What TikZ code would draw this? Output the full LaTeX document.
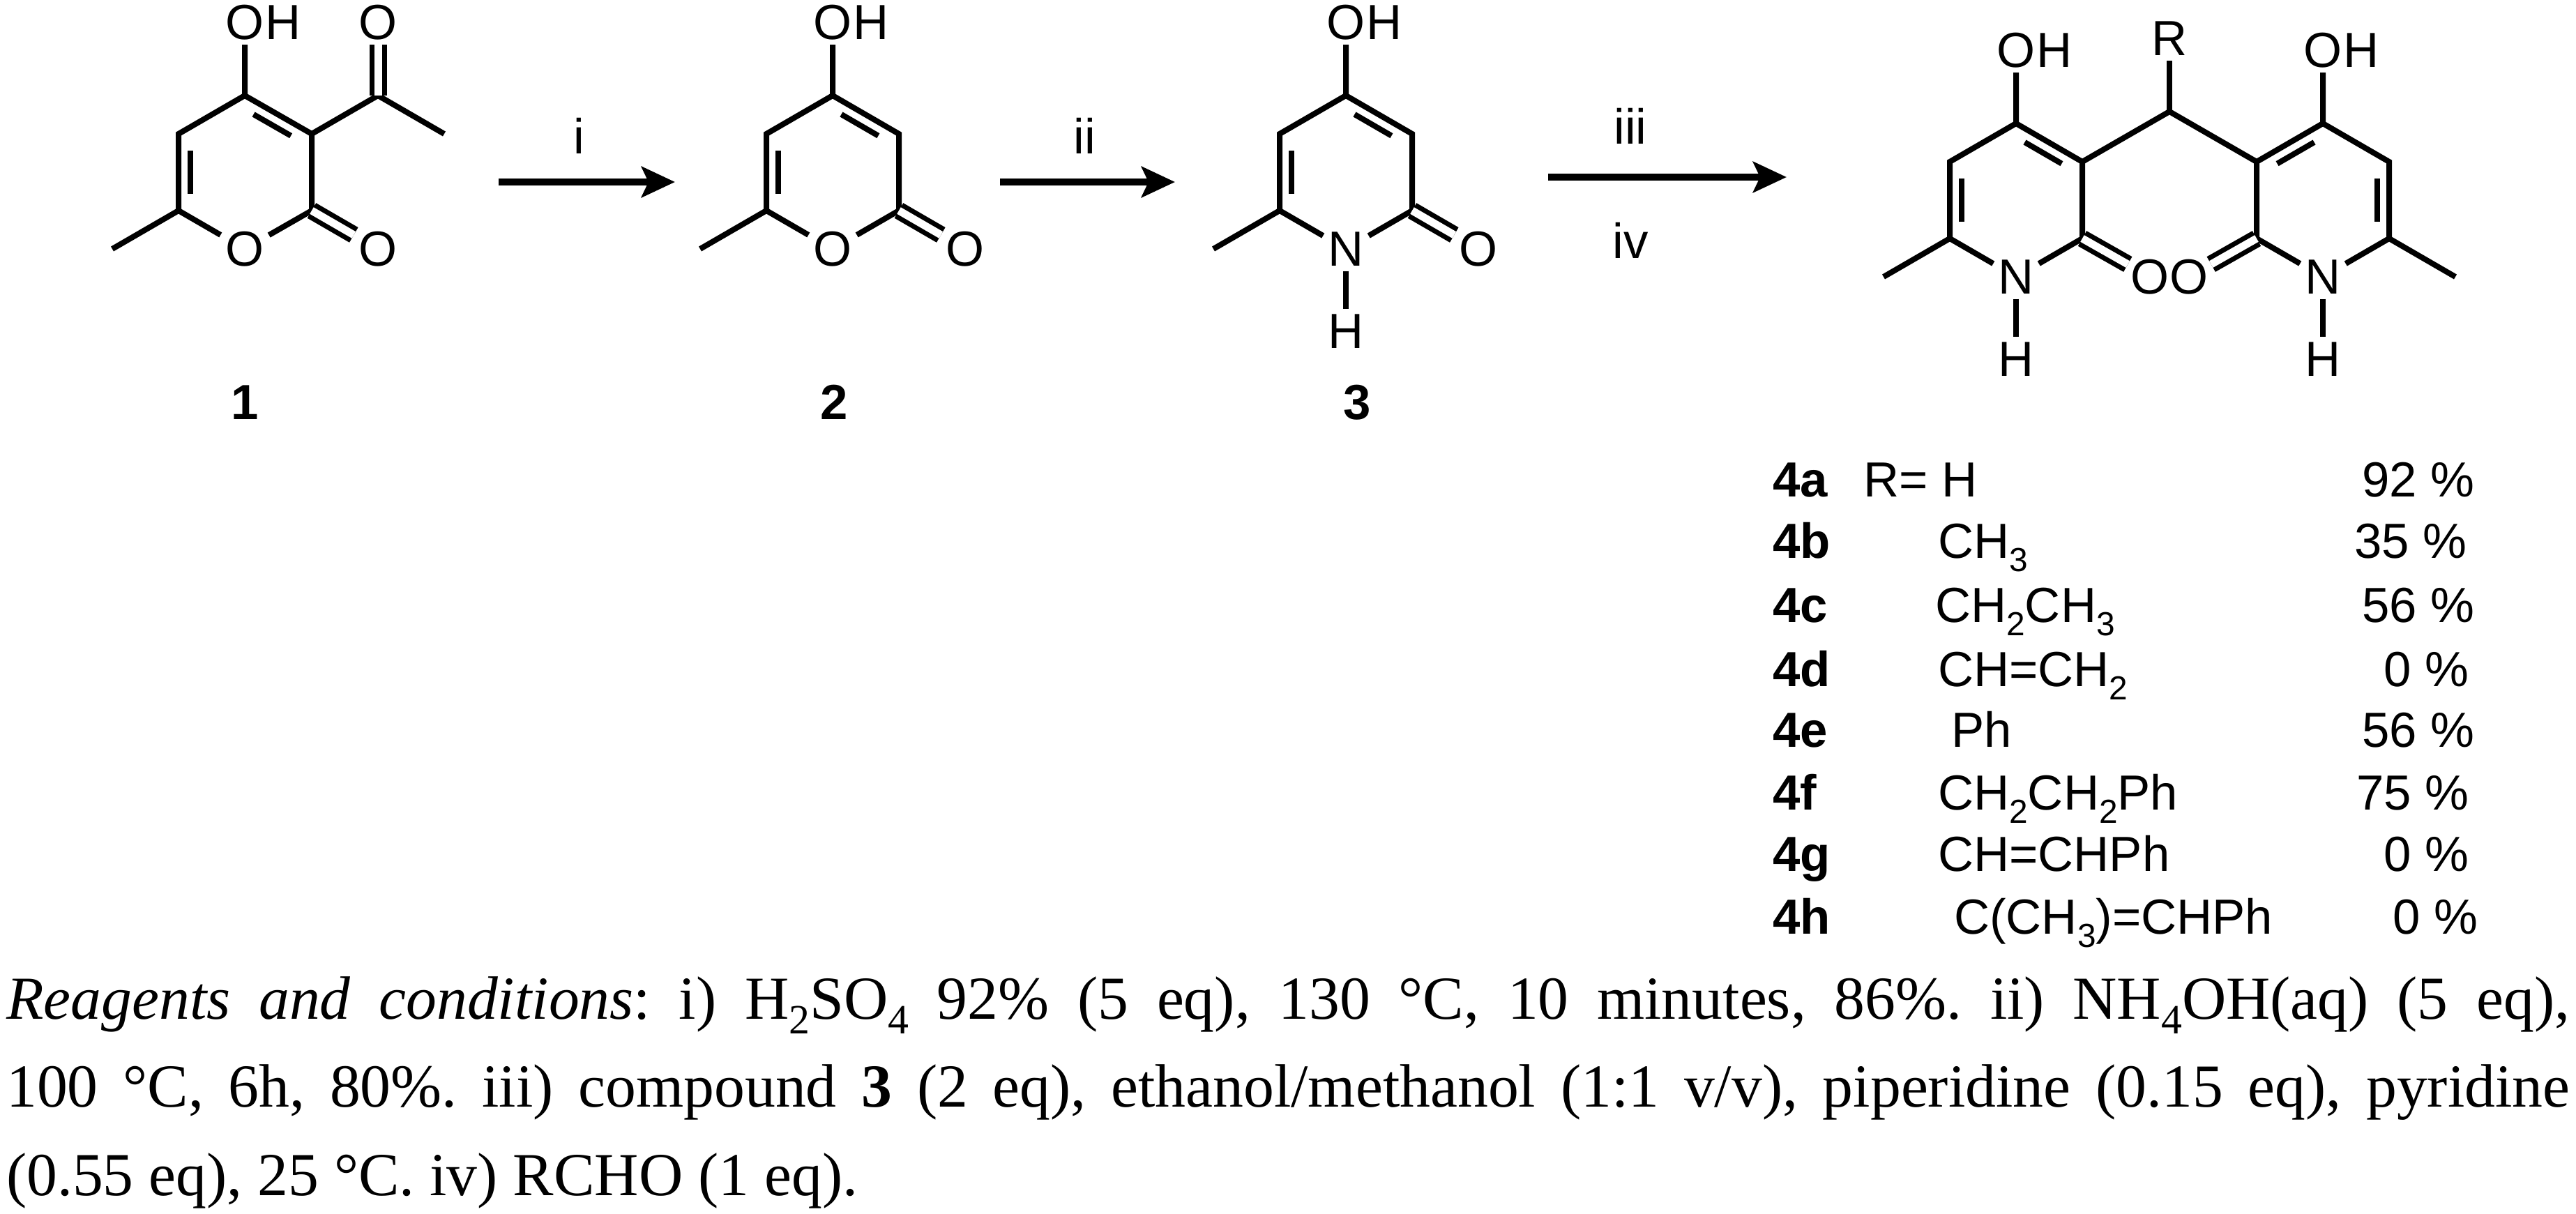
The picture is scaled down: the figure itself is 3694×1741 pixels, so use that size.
\documentclass[tikz,border=0pt]{standalone}
\usepackage{fontspec}
\setmainfont{Liberation Serif}
\newfontfamily\arial{Liberation Sans}
\usetikzlibrary{calc,arrows.meta}
\frenchspacing
\newcommand{\chsub}[1]{\raisebox{-0.28em}{\fontsize{48}{48}\selectfont #1}}
\newcommand{\capsub}[1]{\raisebox{-0.25em}{\fontsize{60}{60}\selectfont #1}}
\tikzset{
  bond/.style={line width=8bp},
  dbl/.style={line width=7bp,double,double distance=11bp},
  atom/.style={font=\arial\fontsize{71}{71}\selectfont,inner sep=7bp},
  lab/.style={font=\arial\bfseries\fontsize{71}{71}\selectfont,inner sep=0},
  tab/.style={font=\arial\fontsize{71}{71}\selectfont,inner sep=0},
  rxn/.style={line width=10bp,-{Stealth[length=48bp,width=44bp,inset=10bp]}},
}
\newcommand{\ringdb}[3]{\draw[bond] ($($(#1)!0.16!(#2)$)!0.18!(#3)$) -- ($($(#2)!0.16!(#1)$)!0.18!(#3)$);}
\begin{document}
\begin{tikzpicture}[x=1bp,y=-1bp]
\useasboundingbox (0,0) rectangle (3694,1741);
% ---------- compound 1
\coordinate (a4) at (351,137); \coordinate (a5) at (256,192); \coordinate (a6) at (256,302);
\coordinate (a2) at (447,302); \coordinate (a3) at (447,192); \coordinate (ac) at (351,247);
\coordinate (aak) at (542,137); \coordinate (ame) at (637,192); \coordinate (ame6) at (161,357);
\node[atom] (ao1) at (351,357) {O};
\node[atom] (aoh) at (351,32) {O}; \node[atom,anchor=west,inner sep=0] (aohh) at ([xshift=-5bp]aoh.east) {H};
\node[atom] (aoa) at (542,32) {O};
\node[atom] (aoc) at (542,357) {O};
\draw[bond] (aoh) -- (a4) -- (a5) -- (a6) -- (ao1) -- (a2) -- (a3) -- (a4);
\draw[bond] (a6) -- (ame6); \draw[bond] (a3) -- (aak) -- (ame);
\draw[dbl] (aak) -- (aoa); \draw[dbl] (a2) -- (aoc);
\ringdb{a3}{a4}{ac} \ringdb{a5}{a6}{ac}
\node[lab] (l1) at (351,577) {1};
% ---------- compound 2
\coordinate (b4) at (1194,137); \coordinate (b5) at (1099,192); \coordinate (b6) at (1099,302);
\coordinate (b2) at (1289,302); \coordinate (b3) at (1289,192); \coordinate (bc) at (1194,247);
\coordinate (bme6) at (1004,357);
\node[atom] (bo1) at (1194,357) {O};
\node[atom] (boh) at (1194,32) {O}; \node[atom,anchor=west,inner sep=0] (bohh) at ([xshift=-5bp]boh.east) {H};
\node[atom] (boc) at (1384,357) {O};
\draw[bond] (boh) -- (b4) -- (b5) -- (b6) -- (bo1) -- (b2) -- (b3) -- (b4);
\draw[bond] (b6) -- (bme6); \draw[dbl] (b2) -- (boc);
\ringdb{b3}{b4}{bc} \ringdb{b5}{b6}{bc}
\node[lab] (l2) at (1196,577) {2};
% ---------- compound 3
\coordinate (c4) at (1930,137); \coordinate (c5) at (1835,192); \coordinate (c6) at (1835,302);
\coordinate (c2) at (2025,302); \coordinate (c3) at (2025,192); \coordinate (cc) at (1930,247);
\coordinate (cme6) at (1740,357);
\node[atom] (cn1) at (1930,357) {N};
\node[atom] (cnh) at (1930,475) {H};
\node[atom] (coh) at (1930,32) {O}; \node[atom,anchor=west,inner sep=0] (cohh) at ([xshift=-5bp]coh.east) {H};
\node[atom] (coc) at (2120,357) {O};
\draw[bond] (coh) -- (c4) -- (c5) -- (c6) -- (cn1) -- (c2) -- (c3) -- (c4);
\draw[bond] (c6) -- (cme6); \draw[dbl] (c2) -- (coc); \draw[bond] (cn1) -- (cnh);
\ringdb{c3}{c4}{cc} \ringdb{c5}{c6}{cc}
\node[lab] (l3) at (1946,577) {3};
% ---------- compound 4 (left ring)
\coordinate (d4) at (2891,177); \coordinate (d5) at (2796,232); \coordinate (d6) at (2796,342);
\coordinate (d2) at (2986,342); \coordinate (d3) at (2986,232); \coordinate (dc) at (2891,287);
\coordinate (dme6) at (2701,397);
\node[atom] (dn1) at (2891,397) {N};
\node[atom] (dnh) at (2891,515) {H};
\node[atom] (doh) at (2891,72) {O}; \node[atom,anchor=west,inner sep=0] (dohh) at ([xshift=-5bp]doh.east) {H};
\node[atom,inner sep=4bp] (doc) at (3083,397) {O};
\draw[bond] (doh) -- (d4) -- (d5) -- (d6) -- (dn1) -- (d2) -- (d3) -- (d4);
\draw[bond] (d6) -- (dme6); \draw[dbl] (d2) -- (doc); \draw[bond] (dn1) -- (dnh);
\ringdb{d3}{d4}{dc} \ringdb{d5}{d6}{dc}
% right ring
\coordinate (e4) at (3331,177); \coordinate (e5) at (3426,232); \coordinate (e6) at (3426,342);
\coordinate (e2) at (3236,342); \coordinate (e3) at (3236,232); \coordinate (ec) at (3331,287);
\coordinate (eme6) at (3521,397);
\node[atom] (en1) at (3331,397) {N};
\node[atom] (enh) at (3331,515) {H};
\node[atom] (eoh) at (3331,72) {O}; \node[atom,anchor=west,inner sep=0] (eohh) at ([xshift=-5bp]eoh.east) {H};
\node[atom,inner sep=4bp] (eoc) at (3139,397) {O};
\draw[bond] (eoh) -- (e4) -- (e5) -- (e6) -- (en1) -- (e2) -- (e3) -- (e4);
\draw[bond] (e6) -- (eme6); \draw[dbl] (e2) -- (eoc); \draw[bond] (en1) -- (enh);
\ringdb{e3}{e4}{ec} \ringdb{e5}{e6}{ec}
% bridge
\coordinate (ch) at (3111,160);
\node[atom] (r) at (3111,55) {R};
\draw[bond] (d3) -- (ch) -- (e3); \draw[bond] (ch) -- (r);
% ---------- arrows
\coordinate (i1) at (715,261); \coordinate (i2) at (968,261);
\coordinate (ii1) at (1434,261); \coordinate (ii2) at (1685,261);
\coordinate (iii1) at (2220,254); \coordinate (iii2) at (2562,254);
\draw[rxn] (i1) -- (i2); \draw[rxn] (ii1) -- (ii2); \draw[rxn] (iii1) -- (iii2);
\node[tab] (ti) at (830,195) {i};
\node[tab] (tii) at (1555,195) {ii};
\node[tab] (tiii) at (2338,181) {iii};
\node[tab] (tiv) at (2338,345) {iv};
% ---------- table
\foreach \n/\y in {a/712,b/800,c/892,d/984,e/1071,f/1161,g/1249,h/1339}{
  \node[lab,anchor=base west] (k\n) at (2542,\y) {4\n};}
\node[tab,anchor=base west] (ra) at (2672,712) {R= H};
\node[tab,anchor=base west] (rb) at (2779,800) {CH\chsub{3}};
\node[tab,anchor=base west] (rc) at (2775,892) {CH\chsub{2}CH\chsub{3}};
\node[tab,anchor=base west] (rd) at (2779,984) {CH=CH\chsub{2}};
\node[tab,anchor=base west] (re) at (2798,1071) {Ph};
\node[tab,anchor=base west] (rf) at (2779,1161) {CH\chsub{2}CH\chsub{2}Ph};
\node[tab,anchor=base west] (rg) at (2779,1249) {CH=CHPh};
\node[tab,anchor=base west] (rh) at (2802,1339) {C(CH\chsub{3})=CHPh};
\node[tab,anchor=base east] (pa) at (3549,712) {92 \%};
\node[tab,anchor=base east] (pb) at (3538,800) {35 \%};
\node[tab,anchor=base east] (pc) at (3549,892) {56 \%};
\node[tab,anchor=base east] (pd) at (3541,984) {0 \%};
\node[tab,anchor=base east] (pe) at (3549,1071) {56 \%};
\node[tab,anchor=base east] (pf) at (3541,1161) {75 \%};
\node[tab,anchor=base east] (pg) at (3541,1249) {0 \%};
\node[tab,anchor=base east] (ph) at (3554,1339) {0 \%};
% ---------- caption
\node[anchor=north west,inner sep=0,text width=3676bp,align=justify,
  font=\fontsize{88}{127}\selectfont] (cap) at (9,1400)
{\textit{Reagents and conditions}: i) H\capsub{2}SO\capsub{4} 92\% (5 eq), 130 °C, 10 minutes, 86\%. ii) NH\capsub{4}OH(aq) (5 eq),\linebreak
100 °C, 6h, 80\%. iii) compound \textbf{3} (2 eq), ethanol/methanol (1:1 v/v), piperidine (0.15 eq), pyridine\linebreak
(0.55 eq), 25 °C. iv) RCHO (1 eq).};
\end{tikzpicture}
\end{document}
